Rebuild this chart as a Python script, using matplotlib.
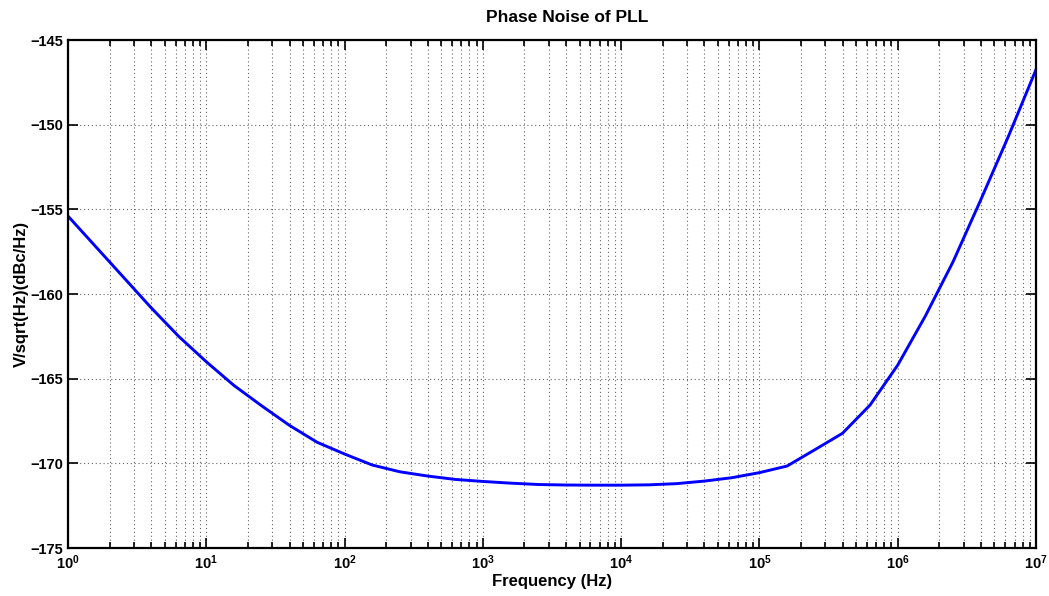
import numpy as np
import matplotlib
matplotlib.use("Agg")
import matplotlib.pyplot as plt
from matplotlib.ticker import LogLocator, FixedLocator, FuncFormatter, NullFormatter

# Data: frequency points (Hz) and phase noise values
freq_exponents = [0.0, 0.2, 0.4, 0.6, 0.8, 1.0, 1.2, 1.4, 1.6, 1.8, 2.0,
                  2.2, 2.4, 2.6, 2.8, 3.0, 3.2, 3.4, 3.6, 3.8, 4.0,
                  4.2, 4.4, 4.6, 4.8, 5.0, 5.2, 5.4, 5.6, 5.8, 6.0,
                  6.2, 6.4, 6.6, 6.8, 7.0]
noise_db = [-155.4, -157.2, -159.0, -160.8, -162.5, -164.0, -165.4, -166.6, -167.75, -168.75, -169.45,
            -170.1, -170.5, -170.75, -170.95, -171.07, -171.17, -171.25, -171.28, -171.29, -171.29,
            -171.27, -171.2, -171.05, -170.85, -170.55, -170.16, -169.2, -168.23, -166.56, -164.2,
            -161.3, -158.1, -154.45, -150.7, -146.75]
y_ticks = [-175, -170, -165, -160, -155, -150, -145]
x_decades = [0, 1, 2, 3, 4, 5, 6, 7]

freq = [10 ** e for e in freq_exponents]

plt.rcParams['font.family'] = ['Liberation Sans', 'DejaVu Sans']
plt.rcParams['font.weight'] = 'bold'
plt.rcParams['mathtext.fontset'] = 'custom'
plt.rcParams['mathtext.rm'] = 'Liberation Sans:bold'
plt.rcParams['mathtext.it'] = 'Liberation Sans:bold'
plt.rcParams['mathtext.bf'] = 'Liberation Sans:bold'

fig = plt.figure(figsize=(10.49, 5.96), dpi=100)
ax = fig.add_axes([68 / 1049, 1 - 548 / 596, (1036 - 68) / 1049, (548 - 40) / 596])

ax.plot(freq, noise_db, color=(0, 0, 1), linewidth=2.1)
ax.set_xscale('log')
ax.set_xlim(10 ** x_decades[0], 10 ** x_decades[-1])
ax.set_ylim(y_ticks[0], y_ticks[-1])

ax.xaxis.set_major_locator(FixedLocator([10 ** d for d in x_decades]))
ax.xaxis.set_minor_locator(LogLocator(base=10, subs=np.arange(2, 10), numticks=100))
ax.xaxis.set_major_formatter(FuncFormatter(lambda v, p: r'$10^{%d}$' % round(np.log10(v))))
ax.xaxis.set_minor_formatter(NullFormatter())
ax.yaxis.set_major_locator(FixedLocator(y_ticks))
ax.yaxis.set_major_formatter(FuncFormatter(lambda v, p: '\u2212%d' % abs(v) if v < 0 else '%d' % v))

ax.tick_params(which='both', direction='in', top=True, right=True, labelsize=10.5, width=1.2)
ax.tick_params(which='major', length=7)
ax.tick_params(which='minor', length=4)
ax.tick_params(axis='x', which='major', pad=4)
for lab in ax.get_xticklabels() + ax.get_yticklabels():
    lab.set_fontweight('bold')

ax.grid(True, which='major', linestyle=(0, (1, 2.5)), color='#666666', linewidth=0.8)
ax.grid(True, which='minor', axis='x', linestyle=(0, (1, 2.5)), color='#666666', linewidth=0.8)

for s in ax.spines.values():
    s.set_linewidth(1.6)

ax.set_title('Phase Noise of PLL', fontsize=12.5, fontweight='bold', pad=13,
             x=(567 - 68) / 968)
ax.set_xlabel('Frequency (Hz)', fontsize=12, fontweight='bold', labelpad=1)
ax.set_ylabel('V/sqrt(Hz)(dBc/Hz)', fontsize=12, fontweight='bold', labelpad=1)

fig.savefig('out.png', dpi=100)
